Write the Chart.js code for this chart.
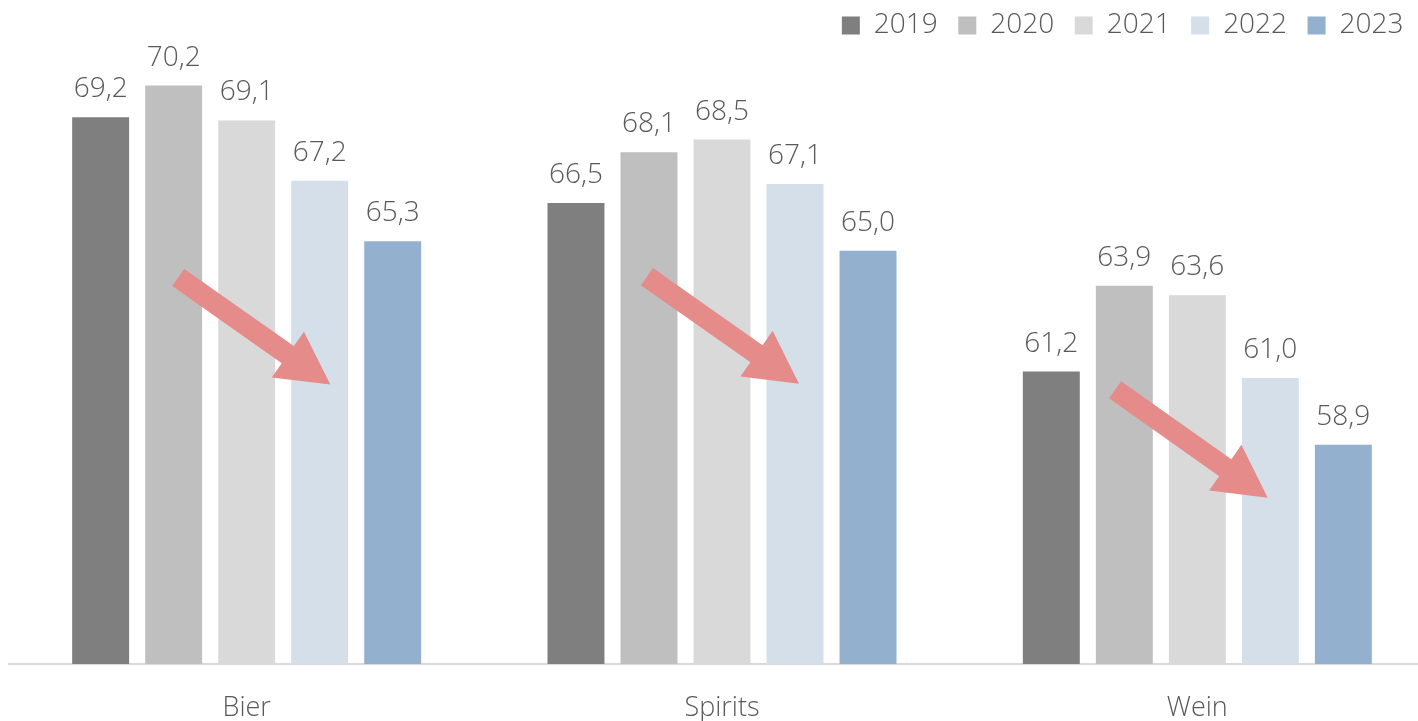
<!DOCTYPE html>
<html>
<head>
<meta charset="utf-8">
<script src="https://cdn.jsdelivr.net/npm/chart.js@4.4.1/dist/chart.umd.min.js"></script>
<style>
    html, body { margin: 0; padding: 0; background: #fff; overflow: hidden; width: 1418px; height: 721px; }
    /* the source chart is slightly cropped on the right */
    .wrap { width: 1435px; height: 721px; position: relative; }
</style>
</head>
<body>
<div class="wrap"><canvas id="chart"></canvas></div>
<script>
// ---- Data ----
const categories = ['Bier', 'Spirits', 'Wein'];
const years = ['2019', '2020', '2021', '2022', '2023'];
const v2019 = [69.2, 66.5, 61.2];
const v2020 = [70.2, 68.1, 63.9];
const v2021 = [69.1, 68.5, 63.6];
const v2022 = [67.2, 67.1, 61.0];
const v2023 = [65.3, 65.0, 58.9];
const colors = ['#7f7f7f', '#bfbfbf', '#d9d9d9', '#d4dfea', '#93b1cf'];

// trend arrows: x as offset from category centre (in categories), y in data units
const arrowX0 = [-0.144, -0.158, -0.173];
const arrowX1 = [0.176, 0.162, 0.148];
const arrowY0 = [64.16, 64.19, 60.63];
const arrowY1 = [60.79, 60.82, 57.23];

const FONT = "'Open Sans', 'Noto Sans', sans-serif";
const TEXT = '#595959';

// value labels above bars, German decimal comma
const valueLabels = {
    id: 'valueLabels',
    afterDatasetsDraw(chart) {
        const ctx = chart.ctx;
        ctx.save();
        ctx.font = `300 28px ${FONT}`;
        ctx.fillStyle = TEXT;
        ctx.textAlign = 'center';
        ctx.textBaseline = 'alphabetic';
        chart.data.datasets.forEach((ds, di) => {
            chart.getDatasetMeta(di).data.forEach((bar, i) => {
                const txt = ds.data[i].toFixed(1).replace('.', ',');
                ctx.fillText(txt, bar.x, bar.y - 20);
            });
        });
        ctx.restore();
    }
};

// red trend arrows drawn on top
const trendArrows = {
    id: 'trendArrows',
    afterDatasetsDraw(chart) {
        const ctx = chart.ctx;
        const xs = chart.scales.x, ys = chart.scales.y;
        ctx.save();
        ctx.fillStyle = '#e58c8a';
        categories.forEach((c, i) => {
            const x0 = xs.getPixelForValue(i + arrowX0[i]);
            const x1 = xs.getPixelForValue(i + arrowX1[i]);
            const y0 = ys.getPixelForValue(arrowY0[i]);
            const y1 = ys.getPixelForValue(arrowY1[i]);
            const len = Math.hypot(x1 - x0, y1 - y0);
            const shaft = 10.5, headW = 28, headL = 52;
            ctx.save();
            ctx.translate(x0, y0);
            ctx.rotate(Math.atan2(y1 - y0, x1 - x0));
            ctx.beginPath();
            ctx.moveTo(0, -shaft);
            ctx.lineTo(len - headL, -shaft);
            ctx.lineTo(len - headL, -headW);
            ctx.lineTo(len, 0);
            ctx.lineTo(len - headL, headW);
            ctx.lineTo(len - headL, shaft);
            ctx.lineTo(0, shaft);
            ctx.closePath();
            ctx.fill();
            ctx.restore();
        });
        ctx.restore();
    }
};

// nudge the legend into the visible part, near the top edge
const legendShift = {
    id: 'legendShift',
    afterLayout(chart) {
        const lg = chart.legend;
        lg.left -= 11; lg.right -= 11;
        lg.top -= 9; lg.bottom -= 9;
    }
};

const series = [v2019, v2020, v2021, v2022, v2023];

new Chart(document.getElementById('chart'), {
    type: 'bar',
    data: {
        labels: categories,
        datasets: years.map((y, i) => ({
            label: y,
            data: series[i],
            backgroundColor: colors[i],
            categoryPercentage: 0.768,
            barPercentage: 0.78,
        }))
    },
    options: {
        responsive: true,
        maintainAspectRatio: false,
        animation: false,
        layout: { padding: { left: 9, right: 0, top: 0, bottom: 0 } },
        scales: {
            x: {
                grid: { display: false, drawTicks: false },
                border: { color: '#d9d9d9', width: 2 },
                ticks: { color: TEXT, font: { family: FONT, size: 27, weight: '300' }, padding: 28 },
                afterFit(scale) { scale.height = 57; }
            },
            y: {
                display: false,
                min: 52,
                max: 71.05
            }
        },
        plugins: {
            legend: {
                align: 'end',
                labels: {
                    boxWidth: 18,
                    boxHeight: 18,
                    padding: 20.5,
                    color: TEXT,
                    font: { family: FONT, size: 28, weight: '300' }
                }
            },
            tooltip: { enabled: false }
        }
    },
    plugins: [valueLabels, trendArrows, legendShift]
});
</script>
</body>
</html>
